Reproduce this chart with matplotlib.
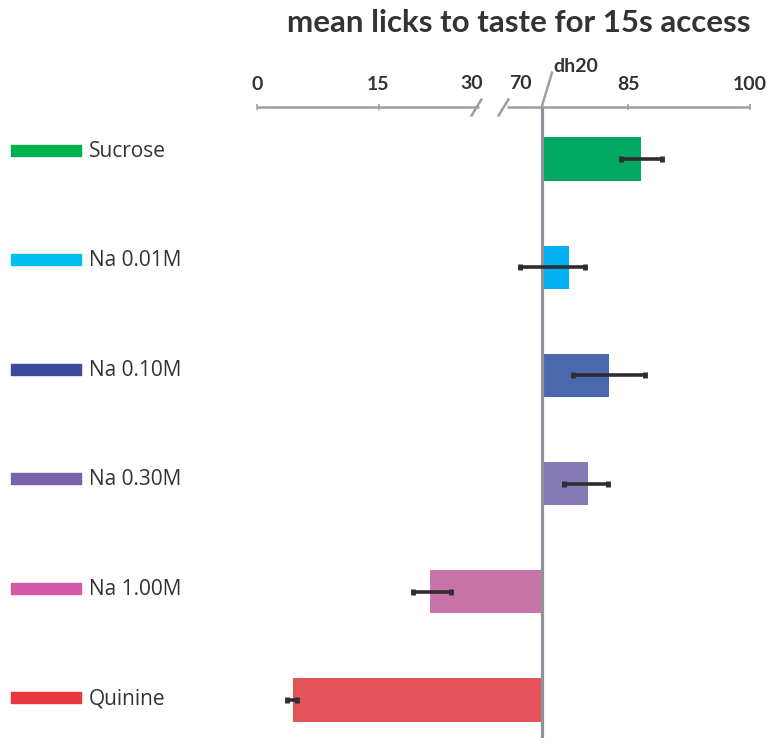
import numpy as np
import matplotlib
matplotlib.use("Agg")
import matplotlib.pyplot as plt
from matplotlib.patches import Rectangle

# ---- data ----
title = "mean licks to taste for 15s access"
categories = ["Sucrose", "Na 0.01M", "Na 0.10M", "Na 0.30M", "Na 1.00M", "Quinine"]
values = [86.55, 77.66, 82.6, 80.04, 21.4, 4.41]
err_low = [2.47, 6.05, 4.45, 2.96, 2.1, 0.65]
err_high = [2.55, 1.95, 4.45, 2.47, 2.55, 0.5]
baseline = 74.3          # dh20 reference
baseline_label = "dh20"
tick_values = [0, 15, 85, 100]
tick_labels = ["0", "15", "85", "100"]
break_labels = ["30", "70"]
break_low, break_high = 30, 70

bar_colors = ["#00a862", "#00b0f0", "#4a68ae", "#8579b6", "#c974a6", "#e5545a"]
swatch_colors = ["#00b050", "#00bdf2", "#3a4a9c", "#7b62a8", "#d35aa6", "#e8383d"]

GAP = 0.86  # visual width given to the 30..70 gap


def fwd(v):
    v = np.asarray(v, dtype=float)
    return np.where(v <= break_low, v,
                    np.where(v >= break_high, v - (break_high - break_low) + GAP,
                             break_low + (v - break_low) * GAP / (break_high - break_low)))


def inv(f):
    f = np.asarray(f, dtype=float)
    return np.where(f <= break_low, f,
                    np.where(f >= break_low + GAP, f + (break_high - break_low) - GAP,
                             break_low + (f - break_low) * (break_high - break_low) / GAP))


W, H = 784, 751
fig = plt.figure(figsize=(W / 100, H / 100), dpi=100)
ax_left, ax_right = 257, 750
ax_top, ax_bot = 106.5, 738
ax = fig.add_axes([ax_left / W, 1 - ax_bot / H, (ax_right - ax_left) / W, (ax_bot - ax_top) / H])
ax.set_xscale("function", functions=(fwd, inv))
ax.set_xlim(0, 100)

rows = np.arange(len(categories))
row_px = 108.2
ax.set_ylim(5 + (ax_bot - 700) / row_px, -(159 - ax_top) / row_px)

for s in ax.spines.values():
    s.set_visible(False)
ax.set_yticks([])

axis_grey = "#9a9fa5"
vline_grey = "#8e939a"

widths = [v - baseline for v in values]
ax.barh(rows, widths, left=baseline, height=0.40, color=bar_colors, zorder=2)
ax.errorbar(values, rows, xerr=[err_low, err_high], fmt="none", ecolor="#2e2e2e",
            elinewidth=2.6, capsize=2.2, capthick=3.5, zorder=4)
ax.axvline(baseline, color=vline_grey, lw=2.3, zorder=3, solid_capstyle="butt")

# top axis segments
fmax = float(fwd(100))
def frac(v):
    return float(fwd(v)) / fmax

left_end = 27.4
ax.plot([0, left_end], [1, 1], transform=ax.get_xaxis_transform(), color=axis_grey,
        lw=1.8, clip_on=False, solid_capstyle="butt")
ax.plot([break_high, 100], [1, 1], transform=ax.get_xaxis_transform(), color=axis_grey,
        lw=1.8, clip_on=False, solid_capstyle="butt")

pxw = ax_right - ax_left
pxh = ax_bot - ax_top
def slash(xfrac_center, dy_px=10, dx_px=6, y0_px=0.0):
    xs = [xfrac_center - dx_px / pxw, xfrac_center + dx_px / pxw]
    ys = [1 - dy_px / pxh + y0_px / pxh, 1 + dy_px / pxh + y0_px / pxh]
    ax.plot(xs, ys, transform=ax.transAxes, color=axis_grey, lw=1.8, clip_on=False,
            solid_capstyle="butt")

slash(frac(left_end) - 2.5 / pxw, dy_px=9, dx_px=5.5, y0_px=-1)
slash(frac(break_high) - 3.5 / pxw, dy_px=9, dx_px=5.5, y0_px=-1)
# dh20 slash going up
xb = frac(baseline)
ax.plot([xb, xb + 10.5 / pxw], [1, 1 + 35 / pxh], transform=ax.transAxes,
        color=axis_grey, lw=1.8, clip_on=False, solid_capstyle="butt")

tick_font = dict(family=["Lato", "DejaVu Sans"], fontweight="bold", fontsize=14, color="#333333")
ax.xaxis.tick_top()
ax.set_xticks(tick_values)
ax.set_xticklabels(tick_labels, **tick_font)
ax.tick_params(axis="x", top=True, bottom=False, labeltop=True, labelbottom=False,
               direction="inout", length=5, width=1.2, color=axis_grey, pad=7)

ax.annotate(break_labels[0], xy=(break_low, 1), xycoords=("data", "axes fraction"),
            xytext=(-20.5, 16.5), textcoords="offset points", ha="center", va="center",
            annotation_clip=False, **tick_font)
ax.annotate(break_labels[1], xy=(break_high, 1), xycoords=("data", "axes fraction"),
            xytext=(9.5, 16.5), textcoords="offset points", ha="center", va="center",
            annotation_clip=False, **tick_font)
ax.annotate(baseline_label, xy=(baseline, 1), xycoords=("data", "axes fraction"),
            xytext=(8.0, 28.5), textcoords="offset points", ha="left", va="center",
            annotation_clip=False, family=["Lato", "DejaVu Sans"], fontweight="bold",
            fontsize=14, color="#333333")

# title
fig.text(519 / W, 1 - 23 / H, title, ha="center", va="center",
         family=["Lato", "DejaVu Sans"], fontweight="bold", fontsize=22.5, color="#333333")

# category legend column
for i, (name, c) in enumerate(zip(categories, swatch_colors)):
    yc = 150.5 + i * 109.4
    fig.patches.append(Rectangle((11 / W, 1 - (yc + 5.5) / H), 70 / W, 11 / H,
                                 transform=fig.transFigure, color=c, figure=fig))
    fig.text(89 / W, 1 - (yc + 1) / H, name, ha="left", va="center",
             family=["Open Sans", "DejaVu Sans"], fontsize=15, color="#333333")

fig.savefig("out.png", dpi=100, facecolor="white")
